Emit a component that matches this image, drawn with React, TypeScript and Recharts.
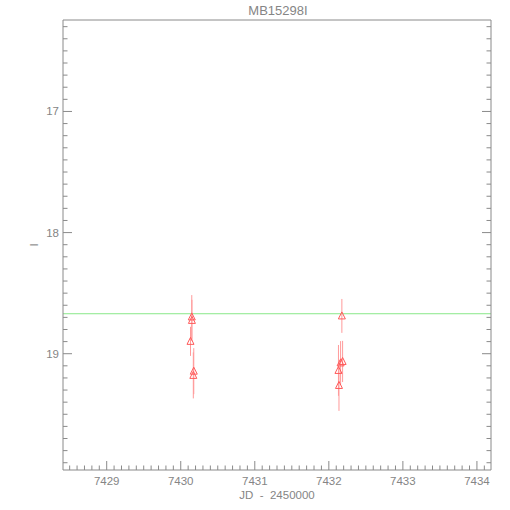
import React from 'react';
import { ScatterChart, Scatter, XAxis, YAxis, ErrorBar, ReferenceLine } from 'recharts';

// photometry points (JD - 2450000, I mag, 1-sigma error)
const jd = [7430.149, 7430.151, 7430.132, 7430.176, 7430.170, 7432.176, 7432.186, 7432.159, 7432.130, 7432.137];
const mag = [18.696, 18.725, 18.898, 19.144, 19.179, 18.688, 19.064, 19.076, 19.138, 19.262];
const magErr = [0.18, 0.17, 0.12, 0.19, 0.19, 0.14, 0.17, 0.18, 0.21, 0.21];

const baseline = 18.67;

const xDomain = [7428.41, 7434.19];
const yDomain = [16.245, 19.96];

// tick positions, major every 1, minor every 0.1
const xTicks = Array.from({ length: 57 }, (_, i) => Math.round(74285 + i) / 10);
const yTicks = Array.from({ length: 37 }, (_, i) => Math.round(163 + i) / 10);

const points = jd.map((x, i) => ({ x, y: mag[i], err: magErr[i] }));

const AXIS = '#8a8a8a';
const TEXT = '#858585';
const FONT = '"Liberation Sans", Arial, sans-serif';

const isMajor = (v: number) => Math.abs(v - Math.round(v)) < 1e-6;

const BottomTick = ({ x, y, payload }: any) => {
  const major = isMajor(payload.value);
  return (
    <g>
      <line x1={x} x2={x} y1={y} y2={y - (major ? 9 : 4.5)} stroke={AXIS} />
      {major && (
        <text x={x} y={y + 15} textAnchor="middle" fontSize={11.5} fill={TEXT} fontFamily={FONT}>
          {Math.round(payload.value)}
        </text>
      )}
    </g>
  );
};

const TopTick = ({ x, y, payload }: any) => {
  const major = isMajor(payload.value);
  return <line x1={x} x2={x} y1={y} y2={y + (major ? 9 : 4.5)} stroke={AXIS} />;
};

const LeftTick = ({ x, y, payload }: any) => {
  const major = isMajor(payload.value);
  return (
    <g>
      <line x1={x} x2={x + (major ? 9 : 4.5)} y1={y} y2={y} stroke={AXIS} />
      {major && (
        <text x={x - 4} y={y + 4} textAnchor="end" fontSize={11.5} fill={TEXT} fontFamily={FONT}>
          {Math.round(payload.value)}
        </text>
      )}
    </g>
  );
};

const RightTick = ({ x, y, payload }: any) => {
  const major = isMajor(payload.value);
  return <line x1={x} x2={x - (major ? 9 : 4.5)} y1={y} y2={y} stroke={AXIS} />;
};

const OpenTriangle = ({ cx, cy }: any) => (
  <path
    d={`M${cx},${cy - 4} L${cx + 3.5},${cy + 3} L${cx - 3.5},${cy + 3} Z`}
    fill="none"
    stroke="#ff5a5a"
    strokeWidth={1}
  />
);

export default function App() {
  return (
    <div style={{ position: 'absolute', left: 0, top: 0, width: 510, height: 510, background: '#fff' }}>
      <ScatterChart width={510} height={510} margin={{ top: 10, right: 9, left: 0, bottom: 0 }}>
        <text x={278} y={15} textAnchor="middle" fontSize={13} fill={TEXT} fontFamily={FONT}>
          MB15298I
        </text>
        <text
          x={277}
          y={499}
          textAnchor="middle"
          fontSize={11.5}
          fill={TEXT}
          fontFamily={FONT}
          style={{ whiteSpace: 'pre' }}
        >
          {'JD  -  2450000'}
        </text>
        <text
          x={38}
          y={245}
          textAnchor="middle"
          fontSize={11.5}
          fill={TEXT}
          fontFamily={FONT}
          transform="rotate(-90 38 245)"
        >
          I
        </text>
        <XAxis
          xAxisId="b"
          type="number"
          dataKey="x"
          orientation="bottom"
          domain={xDomain}
          ticks={xTicks}
          interval={0}
          height={40}
          tickSize={0}
          tickMargin={0}
          tickLine={false}
          axisLine={{ stroke: AXIS }}
          tick={<BottomTick />}
          allowDataOverflow
        />
        <XAxis
          xAxisId="t"
          type="number"
          orientation="top"
          domain={xDomain}
          ticks={xTicks}
          interval={0}
          height={10}
          tickSize={0}
          tickMargin={0}
          tickLine={false}
          axisLine={{ stroke: AXIS }}
          tick={<TopTick />}
          allowDataOverflow
        />
        <YAxis
          yAxisId="l"
          type="number"
          dataKey="y"
          orientation="left"
          reversed
          domain={yDomain}
          ticks={yTicks}
          interval={0}
          width={63}
          tickSize={0}
          tickMargin={0}
          tickLine={false}
          axisLine={{ stroke: AXIS }}
          tick={<LeftTick />}
          allowDataOverflow
        />
        <YAxis
          yAxisId="r"
          type="number"
          orientation="right"
          reversed
          domain={yDomain}
          ticks={yTicks}
          interval={0}
          width={10}
          tickSize={0}
          tickMargin={0}
          tickLine={false}
          axisLine={{ stroke: AXIS }}
          tick={<RightTick />}
          allowDataOverflow
        />
        <ReferenceLine xAxisId="b" yAxisId="l" y={baseline} stroke="#88e888" strokeWidth={1} />
        <Scatter
          xAxisId="b"
          yAxisId="l"
          data={points}
          shape={<OpenTriangle />}
          isAnimationActive={false}
        >
          <ErrorBar dataKey="err" direction="y" width={0} stroke="#ff9a9a" strokeWidth={1} isAnimationActive={false} />
        </Scatter>
      </ScatterChart>
    </div>
  );
}
